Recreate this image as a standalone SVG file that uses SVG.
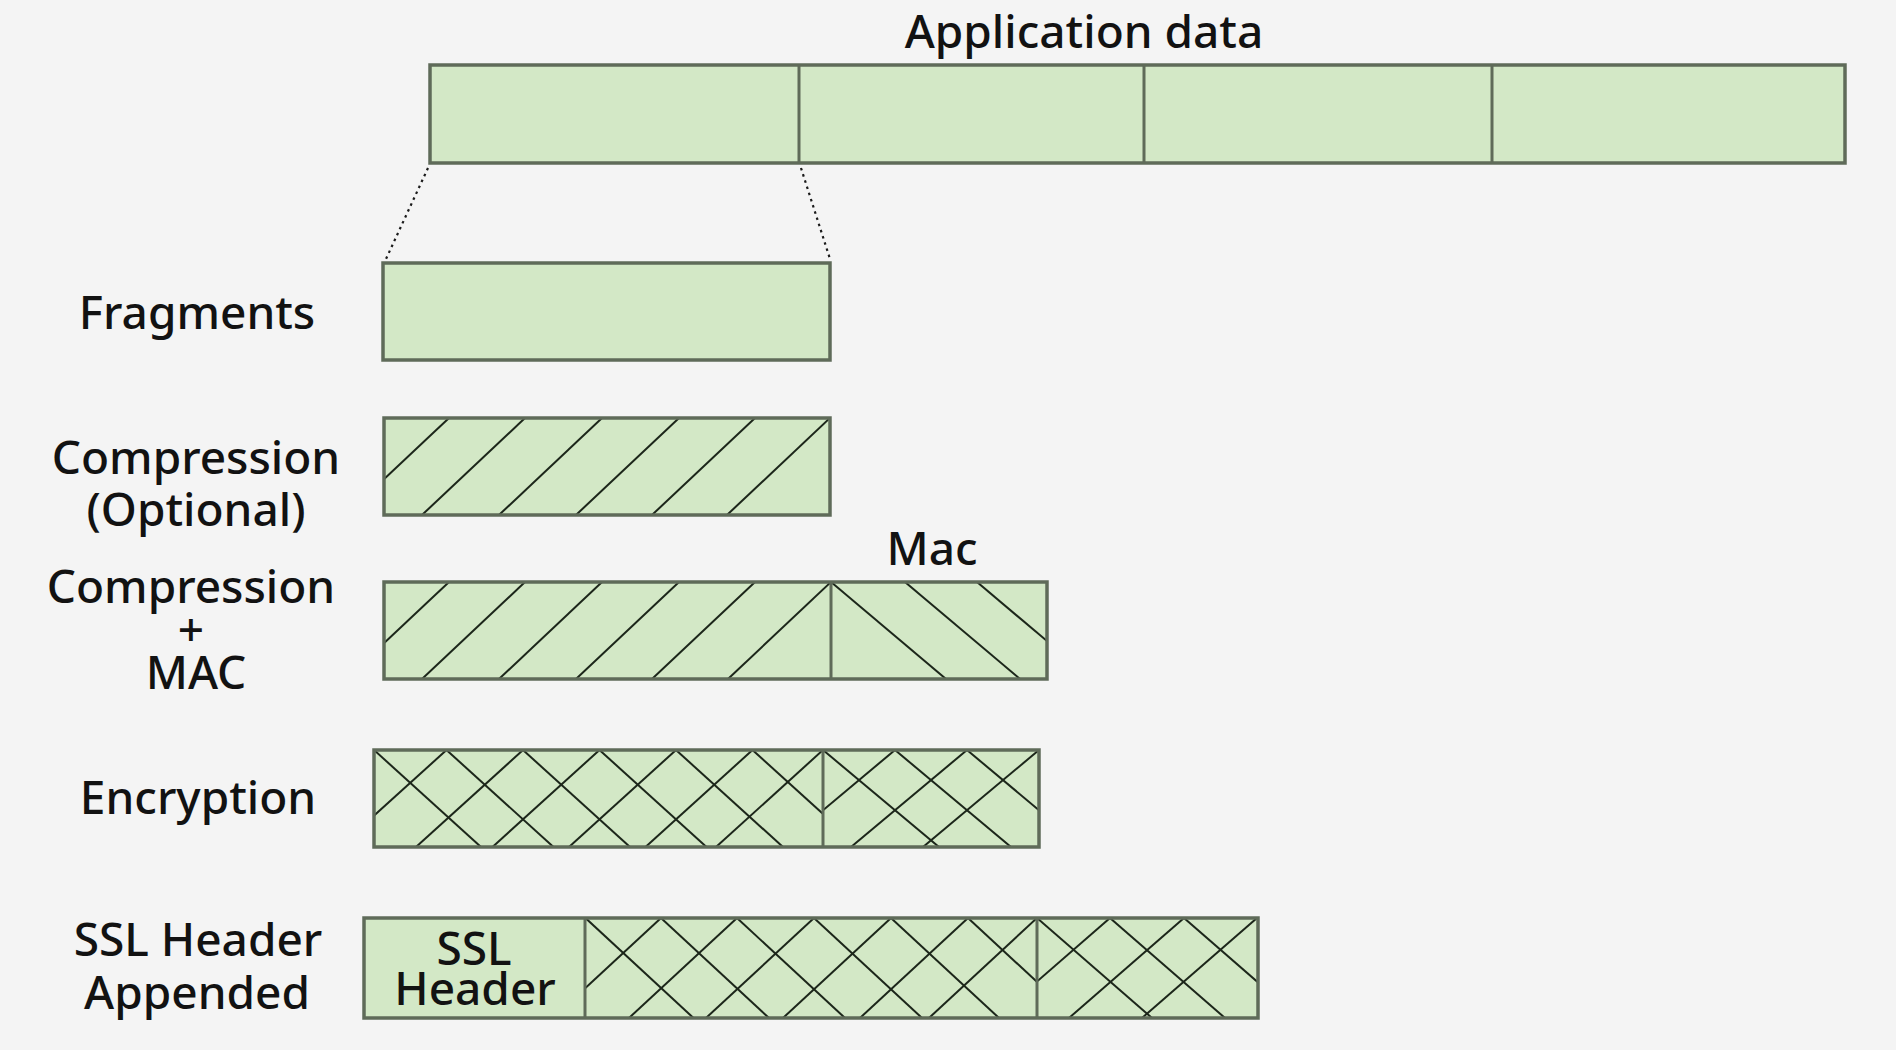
<svg xmlns="http://www.w3.org/2000/svg" width="1896" height="1050" viewBox="0 0 1896 1050">
<style>
  .bg { fill: #f4f4f4; }
  .box { fill: #d3e8c6; stroke: none; }
  .edge { fill: none; stroke: #5f6b59; stroke-width: 3.5; }
  .div { stroke: #5f6b59; stroke-width: 3; }
  .hatch { stroke: #1c261a; stroke-width: 2; fill: none; }
  .lbl { font-family: "Noto Sans", "Open Sans", "DejaVu Sans", sans-serif; font-size: 46px; fill: #121212; text-anchor: middle; font-weight: 500; }
  .dot { stroke: #1a1a1a; stroke-width: 2.2; stroke-dasharray: 2.5 4; fill: none; }
</style>
<defs>
  <clipPath id="cComp"><rect x="384" y="418" width="446" height="97"/></clipPath>
  <clipPath id="cMacL"><rect x="384" y="582" width="447" height="97"/></clipPath>
  <clipPath id="cMacR"><rect x="831" y="582" width="216" height="97"/></clipPath>
  <clipPath id="cEncL"><rect x="374" y="750" width="449" height="97"/></clipPath>
  <clipPath id="cEncR"><rect x="823" y="750" width="216" height="97"/></clipPath>
  <clipPath id="cSslM"><rect x="585" y="918" width="452" height="100"/></clipPath>
  <clipPath id="cSslR"><rect x="1037" y="918" width="221" height="100"/></clipPath>
</defs>
<rect class="bg" x="0" y="0" width="1896" height="1050"/>

<g id="application-data">
  <text class="lbl" x="1084" y="48">Application data</text>
  <rect class="box" x="430" y="65" width="1415" height="98"/>
  <line class="div" x1="799" y1="65" x2="799" y2="163"/>
  <line class="div" x1="1144" y1="65" x2="1144" y2="163"/>
  <line class="div" x1="1492" y1="65" x2="1492" y2="163"/>
  <rect class="edge" x="430" y="65" width="1415" height="98"/>
</g>

<g id="connectors">
  <line class="dot" x1="428" y1="168" x2="386" y2="259"/>
  <line class="dot" x1="801" y1="168" x2="830" y2="259"/>
</g>

<g id="fragments">
  <text class="lbl" x="197" y="329">Fragments</text>
  <rect class="box" x="383" y="263" width="447" height="97"/>
  <rect class="edge" x="383" y="263" width="447" height="97"/>
</g>

<g id="compression">
  <text class="lbl" x="196" y="474">Compression</text>
  <text class="lbl" x="196" y="526">(Optional)</text>
  <rect class="box" x="384" y="418" width="446" height="97"/>
  <g class="hatch" clip-path="url(#cComp)">
    <line x1="449" y1="418" x2="346" y2="515"/>
    <line x1="525" y1="418" x2="422" y2="515"/>
    <line x1="602" y1="418" x2="499" y2="515"/>
    <line x1="679" y1="418" x2="576" y2="515"/>
    <line x1="755" y1="418" x2="652" y2="515"/>
    <line x1="830" y1="418" x2="727" y2="515"/>
  </g>
  <rect class="edge" x="384" y="418" width="446" height="97"/>
</g>

<g id="compression-mac">
  <text class="lbl" x="191" y="603">Compression</text>
  <text class="lbl" x="191" y="646">+</text>
  <text class="lbl" x="196" y="689">MAC</text>
  <text class="lbl" x="932" y="565">Mac</text>
  <rect class="box" x="384" y="582" width="663" height="97"/>
  <g class="hatch" clip-path="url(#cMacL)">
    <line x1="449" y1="582" x2="346" y2="679"/>
    <line x1="525" y1="582" x2="422" y2="679"/>
    <line x1="602" y1="582" x2="499" y2="679"/>
    <line x1="679" y1="582" x2="576" y2="679"/>
    <line x1="755" y1="582" x2="652" y2="679"/>
    <line x1="831" y1="582" x2="728" y2="679"/>
  </g>
  <g class="hatch" clip-path="url(#cMacR)">
    <line x1="831" y1="582" x2="946" y2="679"/>
    <line x1="905" y1="582" x2="1020" y2="679"/>
    <line x1="977" y1="582" x2="1092" y2="679"/>
  </g>
  <line class="div" x1="831" y1="582" x2="831" y2="679"/>
  <rect class="edge" x="384" y="582" width="663" height="97"/>
</g>

<g id="encryption">
  <text class="lbl" x="198" y="814">Encryption</text>
  <rect class="box" x="374" y="750" width="665" height="97"/>
  <g class="hatch" clip-path="url(#cEncL)">
    <line x1="374" y1="750" x2="481" y2="847"/>
    <line x1="446.5" y1="750" x2="553.5" y2="847"/>
    <line x1="523" y1="750" x2="630" y2="847"/>
    <line x1="599.5" y1="750" x2="706.5" y2="847"/>
    <line x1="676" y1="750" x2="783" y2="847"/>
    <line x1="752.5" y1="750" x2="859.5" y2="847"/>
    <line x1="446.5" y1="750" x2="339.5" y2="847"/>
    <line x1="523" y1="750" x2="416" y2="847"/>
    <line x1="599.5" y1="750" x2="492.5" y2="847"/>
    <line x1="676" y1="750" x2="569" y2="847"/>
    <line x1="752.5" y1="750" x2="645.5" y2="847"/>
    <line x1="823" y1="750" x2="716" y2="847"/>
  </g>
  <g class="hatch" clip-path="url(#cEncR)">
    <line x1="823" y1="750" x2="939" y2="847"/>
    <line x1="895" y1="750" x2="1011" y2="847"/>
    <line x1="967" y1="750" x2="1083" y2="847"/>
    <line x1="895" y1="750" x2="779" y2="847"/>
    <line x1="967" y1="750" x2="851" y2="847"/>
    <line x1="1039" y1="750" x2="923" y2="847"/>
  </g>
  <line class="div" x1="823" y1="750" x2="823" y2="847"/>
  <rect class="edge" x="374" y="750" width="665" height="97"/>
</g>

<g id="ssl-header">
  <text class="lbl" x="198" y="956">SSL Header</text>
  <text class="lbl" x="197" y="1009">Appended</text>
  <rect class="box" x="364" y="918" width="894" height="100"/>
  <text class="lbl" x="474" y="965">SSL</text>
  <text class="lbl" x="475" y="1005">Header</text>
  <g class="hatch" clip-path="url(#cSslM)">
    <line x1="585.5" y1="918" x2="693.5" y2="1018"/>
    <line x1="661" y1="918" x2="769" y2="1018"/>
    <line x1="737" y1="918" x2="845" y2="1018"/>
    <line x1="814" y1="918" x2="922" y2="1018"/>
    <line x1="891" y1="918" x2="999" y2="1018"/>
    <line x1="968" y1="918" x2="1076" y2="1018"/>
    <line x1="661" y1="918" x2="553" y2="1018"/>
    <line x1="737" y1="918" x2="629" y2="1018"/>
    <line x1="814" y1="918" x2="706" y2="1018"/>
    <line x1="891" y1="918" x2="783" y2="1018"/>
    <line x1="968" y1="918" x2="860" y2="1018"/>
    <line x1="1037" y1="918" x2="929" y2="1018"/>
  </g>
  <g class="hatch" clip-path="url(#cSslR)">
    <line x1="1037" y1="918" x2="1152" y2="1018"/>
    <line x1="1110" y1="918" x2="1225" y2="1018"/>
    <line x1="1184" y1="918" x2="1299" y2="1018"/>
    <line x1="1110" y1="918" x2="995" y2="1018"/>
    <line x1="1184" y1="918" x2="1069" y2="1018"/>
    <line x1="1257" y1="918" x2="1142" y2="1018"/>
  </g>
  <line class="div" x1="585" y1="918" x2="585" y2="1018"/>
  <line class="div" x1="1037" y1="918" x2="1037" y2="1018"/>
  <rect class="edge" x="364" y="918" width="894" height="100"/>
</g>
</svg>
